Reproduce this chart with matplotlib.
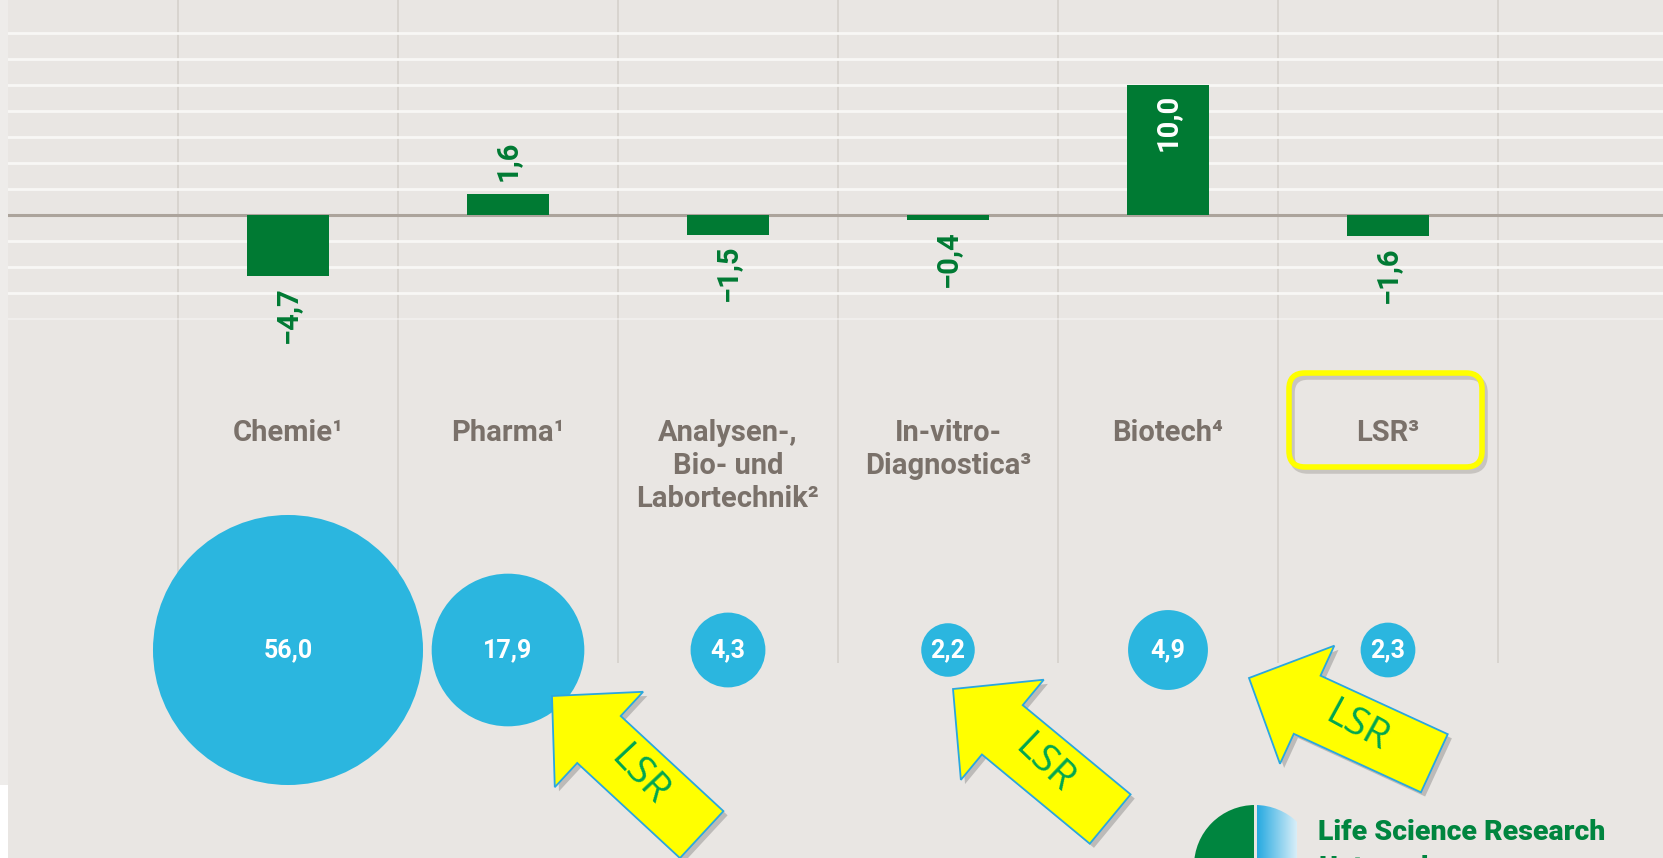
import numpy as np
import matplotlib
matplotlib.use("Agg")
import matplotlib.pyplot as plt
from matplotlib.patches import Polygon, FancyBboxPatch, Circle, Rectangle
from matplotlib.colors import LinearSegmentedColormap
import matplotlib.patheffects as pe

# ---------------- data ----------------
categories = ["Chemie\u00b9", "Pharma\u00b9", "Analysen-,\nBio- und\nLabortechnik\u00b2",
              "In-vitro-\nDiagnostica\u00b3", "Biotech\u2074", "LSR\u00b3"]
growth = [-4.7, 1.6, -1.5, -0.4, 10.0, -1.6]
volume = [56.0, 17.9, 4.3, 2.2, 4.9, 2.3]
grid_values = [-8, -6, -4, -2, 2, 4, 6, 8, 10, 12, 14]
arrow_targets = [1, 3, 4]          # categories pointed at by "LSR" arrows
arrow_text = "LSR"
logo_line1 = "Life Science Research"
logo_line2 = "Unternehmen"

# ---------------- style ----------------
W, H = 1663, 858
BG = "#E9E6E3"
GREEN = "#007A33"
BLUE = "#2BB6DF"
LABEL_GREY = "#7A716A"
FONT = ["Roboto", "DejaVu Sans"]

X0_PX, DX_PX = 288, 220      # category centre pixel, spacing
Y0_PX, DY_PX = 215, 13       # zero line pixel, pixels per unit


def px2x(px):
    return (px - X0_PX) / DX_PX


def py2y(py):
    return (Y0_PX - py) / DY_PX


fig = plt.figure(figsize=(W / 100, H / 100), dpi=100, facecolor=BG)
ax = fig.add_axes([0, 0, 1, 1])
ax.set_facecolor(BG)
ax.set_xlim(px2x(0), px2x(W))
ax.set_ylim(py2y(H), py2y(0))
ax.axis("off")

n = len(categories)
xs = np.arange(n)

# vertical dividers
ax.vlines(np.arange(-0.5, n + 0.5), py2y(663), py2y(0), color="#D4CFCA", lw=1.1, zorder=0.5)
# horizontal grid
for g in grid_values:
    ax.axhline(g, xmin=8 / W, color="#F8F7F5", lw=2.0 if g > -8 else 1.2,
               alpha=1 if g > -8 else 0.6, zorder=1)
ax.axhline(0, xmin=8 / W, color="#ACA49C", lw=2.2, zorder=2)

# bars
ax.bar(xs, growth, width=0.377, color=GREEN, zorder=3)

# value labels of bars
for x, v in zip(xs, growth):
    txt = ("\u2212" if v < 0 else "") + f"{abs(v):.1f}".replace(".", ",")
    kw = dict(rotation=90, ha="center", fontsize=21, fontweight="bold", family=FONT, zorder=4)
    if v > 5:
        ax.text(x, v - 0.7, txt, va="top", color="white", **kw)
    elif v > 0:
        ax.text(x, v + 1.0, txt, va="bottom", color=GREEN, **kw)
    else:
        ax.text(x, v - 0.8, txt, va="top", color=GREEN, **kw)

# category labels
for x, lab in zip(xs, categories):
    ax.text(x, py2y(419), lab, ha="center", va="top", color=LABEL_GREY, fontsize=21,
            fontweight="bold", family=FONT, linespacing=1.22, zorder=4)

# bubbles
row_y = py2y(650)
ax.scatter(xs, [row_y] * n, s=np.array(volume) * 675, color=BLUE, linewidths=0, zorder=3)
for x, v in zip(xs, volume):
    ax.text(x, row_y, f"{v:.1f}".replace(".", ","), ha="center", va="center", color="white",
            fontsize=18, fontweight="bold", family=FONT, zorder=4)

# ---------------- overlay (annotations) ----------------
ov = fig.add_axes([0, 0, 1, 1], zorder=5)
ov.set_xlim(0, W)
ov.set_ylim(H, 0)
ov.axis("off")
ov.patch.set_alpha(0)

# left strip
ov.add_patch(Rectangle((0, 0), 8, 785, color="#EEECEA", lw=0))
ov.add_patch(Rectangle((0, 785), 8, H - 785, color="white", lw=0))

shadow = [pe.SimplePatchShadow(offset=(3, -3), alpha=0.3, shadow_rgbFace="#555555"), pe.Normal()]

# highlight box around LSR label (with soft shadow)
bx0, by0, bw, bh, r = 1289, 373, 193, 94, 16
ov.add_patch(FancyBboxPatch((bx0 + r + 3, by0 + r + 4), bw - 2 * r, bh - 2 * r,
                            boxstyle=f"round,pad={r}", fc="none", ec="#8A8580", lw=4.0,
                            alpha=0.35, zorder=5.9))
ov.add_patch(FancyBboxPatch((bx0 + r, by0 + r), bw - 2 * r, bh - 2 * r,
                            boxstyle=f"round,pad={r}", fc="none", ec="#FFFF00", lw=4.0,
                            zorder=6))

# arrows
arrow_geom = {1: (552, 696, 42.8), 3: (953, 689, 39.6), 4: (1249, 678, 24.7)}
L, HL, HW, SW = 204, 64, 65, 32
for t in arrow_targets:
    tx, ty, ang = arrow_geom[t]
    a = np.deg2rad(ang)
    loc = [(0, 0), (HL, -HW), (HL, -SW), (L, -SW), (L, SW), (HL, SW), (HL, HW)]
    pts = [(tx + u * np.cos(a) - v * np.sin(a), ty + u * np.sin(a) + v * np.cos(a)) for u, v in loc]
    ov.add_patch(Polygon(pts, closed=True, fc="#FFFF00", ec="#2AA7DF", lw=1.3,
                         path_effects=shadow, zorder=7))
    cx, cy = tx + 0.58 * L * np.cos(a), ty + 0.58 * L * np.sin(a)
    ov.text(cx, cy, arrow_text, rotation=-ang - 4, rotation_mode="anchor", ha="center",
            va="center", color="#00A651", fontsize=28, family=["Open Sans", "DejaVu Sans"],
            zorder=8)

# logo
lc = (1255, 866)
lr = 61
circ = Circle(lc, lr, transform=ov.transData)
green_part = Circle(lc, lr, fc="#00853F", ec="none", zorder=6)
ov.add_patch(green_part)
green_part.set_clip_path(Rectangle((1150, 780), 104, 100, transform=ov.transData))
grad = np.linspace(0, 1, 64)[None, :]
cmap = LinearSegmentedColormap.from_list("lg", ["#27AAE1", "#D8EEF8"])
im = ov.imshow(np.repeat(grad, 4, axis=0), extent=(1257, 1297, H + 10, 795), cmap=cmap,
               aspect="auto", zorder=6, interpolation="bilinear")
im.set_clip_path(circ)
ov.set_xlim(0, W)
ov.set_ylim(H, 0)
ov.text(1318, 833, logo_line1, ha="left", va="center", color="#00853F", fontsize=20.5,
        fontweight=900, family=FONT, zorder=6)
ov.text(1318, 855, logo_line2, ha="left", va="top", color="#00853F", fontsize=20.5,
        fontweight=900, family=FONT, zorder=6)

fig.savefig("out.png", dpi=100, facecolor=BG)
